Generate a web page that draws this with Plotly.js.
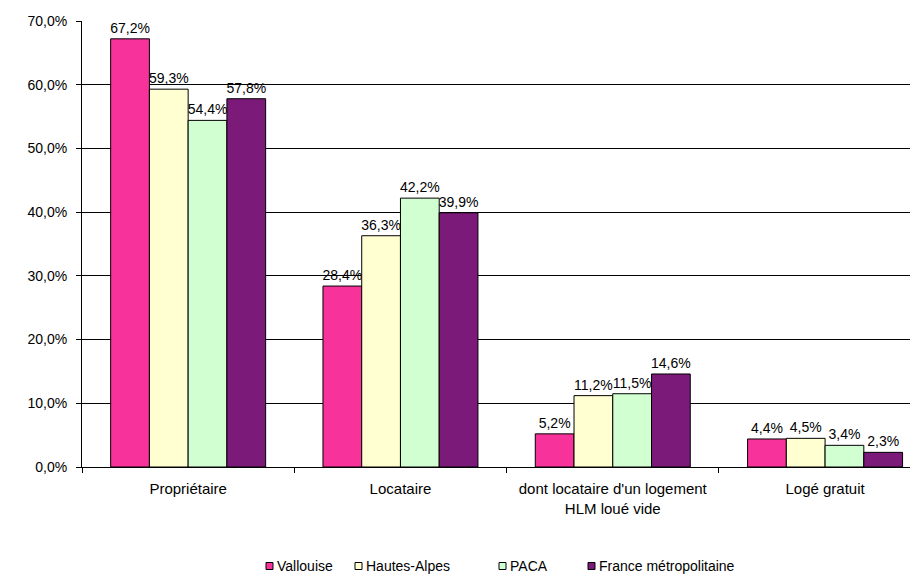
<!DOCTYPE html>
<html><head><meta charset="utf-8">
<script src="https://cdn.plot.ly/plotly-3.0.1.min.js"></script>
<style>html,body{margin:0;padding:0;background:#fff;overflow:hidden}</style>
</head><body>
<div id="chart" style="width:910px;height:576px"></div>
<script>
const categories = ["Propriétaire", "Locataire", "dont locataire d'un logement<br>HLM loué vide", "Logé gratuit"];
const seriesNames = ["Vallouise", "Hautes-Alpes", "PACA", "France métropolitaine"];
const vallouise = [67.2, 28.4, 5.2, 4.4];
const hautesAlpes = [59.3, 36.3, 11.2, 4.5];
const paca = [54.4, 42.2, 11.5, 3.4];
const france = [57.8, 39.9, 14.6, 2.3];
const colors = ["#F7329A", "#FFFFD2", "#D2FFD2", "#7B1A78"];
const tickVals = [0, 10, 20, 30, 40, 50, 60, 70];

const FONT = 'Liberation Sans, Arial, sans-serif';
const fmt = v => v.toFixed(1).replace('.', ',') + '%';
const allSeries = [vallouise, hautesAlpes, paca, france];
const traces = allSeries.map((vals, i) => ({
  type: 'bar',
  name: seriesNames[i],
  x: categories,
  y: vals,
  text: vals.map(fmt),
  textposition: 'outside',
  constraintext: 'none',
  textfont: {family: FONT, size: 14, color: '#000'},
  cliponaxis: false,
  marker: {color: colors[i], line: {color: '#000', width: 1}},
  hoverinfo: 'none',
  showlegend: false
}));

// plot area geometry (pixels) used to place the hand-drawn legend
const L = 82, T = 21, W = 910, H = 576, B = 109;
const pw = W - L, ph = H - T - B;
const legendSquareX = [266, 355, 499, 588];
const legendY = 566;
const shapes = [], annotations = [];
seriesNames.forEach((n, i) => {
  const x0 = legendSquareX[i];
  shapes.push({type: 'rect', xref: 'paper', yref: 'paper',
    x0: (x0 - L) / pw, x1: (x0 + 7 - L) / pw,
    y0: (H - B - (legendY - 3.5)) / ph, y1: (H - B - (legendY + 3.5)) / ph,
    fillcolor: colors[i], line: {color: '#000', width: 1}});
  annotations.push({xref: 'paper', yref: 'paper', x: (x0 + 9 - L) / pw, y: (H - B - legendY) / ph,
    xanchor: 'left', yanchor: 'middle', text: n, showarrow: false,
    font: {family: FONT, size: 14, color: '#000'}});
});

const layout = {
  width: W, height: H,
  margin: {l: L, r: 0, t: T, b: B, autoexpand: false},
  paper_bgcolor: '#fff', plot_bgcolor: '#fff',
  font: {family: FONT, size: 14, color: '#000'},
  barmode: 'group', bargap: 0.27, bargroupgap: 0,
  showlegend: false,
  shapes: shapes, annotations: annotations,
  xaxis: {
    range: [-0.5, 3.4],
    showline: true, linecolor: '#000', linewidth: 1,
    ticks: 'outside', tickson: 'boundaries', ticklen: 5, tickcolor: '#000',
    ticklabelstandoff: 8,
    showgrid: false, tickfont: {size: 15}
  },
  yaxis: {
    range: [0, 70], tickvals: tickVals, ticktext: tickVals.map(fmt),
    showline: true, linecolor: '#000', linewidth: 1,
    ticks: 'outside', ticklen: 5, tickcolor: '#000',
    ticklabelstandoff: 6,
    showgrid: true, gridcolor: '#000', gridwidth: 1,
    zeroline: false, tickfont: {size: 14}
  }
};
Plotly.newPlot('chart', traces, layout, {displayModeBar: false, staticPlot: true});
</script>
</body></html>
